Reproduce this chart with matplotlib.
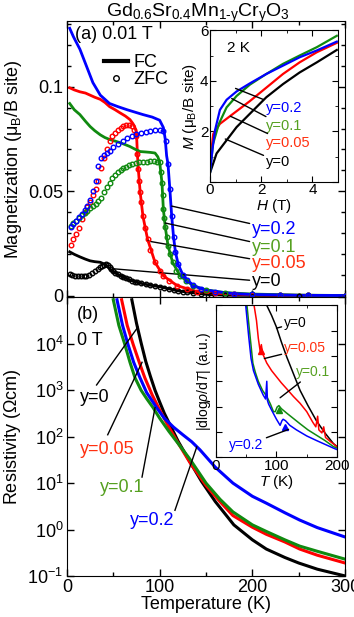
import matplotlib
matplotlib.use("Agg")
import matplotlib.pyplot as plt
import numpy as np
from matplotlib.lines import Line2D
from matplotlib.ticker import MultipleLocator, NullLocator

plt.rcParams['font.family'] = ['Liberation Sans', 'DejaVu Sans']
plt.rcParams['mathtext.fontset'] = 'custom'
plt.rcParams['mathtext.rm'] = 'Liberation Sans'
plt.rcParams['mathtext.it'] = 'Liberation Sans:italic'
plt.rcParams['mathtext.default'] = 'regular'

BLUE = '#0000ff'
RED = '#ff0000'
GREEN = '#108a10'
GREEN_TXT = '#55a020'
RED_TXT = '#ff3010'

# ---------------- (a) magnetization, 0.01 T ----------------
fc_t_y0 = [3, 8, 14, 20, 25, 30, 36, 40, 43, 46, 50, 55, 60, 65, 70, 76, 82, 90, 100, 110, 119, 128, 136, 145, 154, 180, 220, 300]
fc_m_y0 = [.021, .0198, .0186, .0175, .0167, .0163, .016, .0152, .0143, .013, .0114, .0102, .0091, .0081, .0072, .0064,
           .0057, .005, .0043, .0033, .0024, .0018, .0014, .0009, .0005, .0002, .0001, 0]
zfc_t_y0 = [3, 6, 9, 12, 15, 18, 21, 24, 27, 30, 33, 36, 38, 40, 42, 44, 46, 48, 50, 52, 55, 58, 61, 64, 67, 70, 73, 76,
            80, 85, 90, 95, 100, 105, 110, 115, 120, 125, 130, 136, 145, 155, 170, 200, 250, 300]
zfc_m_y0 = [.0105, .0099, .0096, .0095, .0094, .0094, .0095, .0099, .0108, .0119, .0128, .0138, .0144, .0149, .0152, .0149,
            .0139, .0128, .0117, .011, .0102, .0095, .009, .0083, .0078, .0072, .0068, .0064, .0059, .0055, .005, .0046,
            .0043, .0038, .0033, .0028, .0024, .002, .0017, .0014, .0009, .0005, .0003, .0001, 0, 0]

fc_t_y005 = [3, 8, 14, 20, 25, 30, 36, 41, 46, 52, 57, 63, 68, 71, 73, 75, 76, 77, 79, 82, 87, 95, 104, 119, 140, 160, 200, 250, 300]
fc_m_y005 = [.0995, .0985, .0976, .097, .096, .095, .094, .0925, .0905, .089, .0876, .086, .0843, .0825, .081, .078, .068,
             .0605, .0495, .038, .027, .016, .0095, .0048, .002, .0012, .0005, .0002, .0001]
zfc_t_y005 = [4, 7, 10, 13, 16, 19, 22, 25, 28, 31, 34, 37, 40, 43, 46, 49, 52, 55, 58, 61, 64, 67, 70, 72, 74, 76, 77, 78,
              79, 80, 82, 84, 87, 90, 95, 100, 104, 110, 119, 130, 140, 160, 180, 200, 230, 260, 300]
zfc_m_y005 = [.0245, .027, .0295, .0325, .0365, .040, .0425, .045, .048, .051, .055, .061, .066, .070, .074, .0765, .078,
              .0795, .0805, .081, .0815, .0815, .081, .0795, .0765, .068, .0605, .055, .0495, .045, .038, .0325, .027, .022,
              .016, .012, .0095, .007, .0048, .003, .002, .0012, .0008, .0005, .0003, .0002, .0001]

fc_t_y01 = [3, 8, 14, 20, 25, 30, 36, 41, 46, 52, 57, 63, 68, 74, 79, 85, 90, 95, 98, 100, 102.5, 104, 106, 109, 114, 122,
            136, 150, 170, 200, 250, 300]
fc_m_y01 = [.092, .089, .0867, .0835, .081, .079, .077, .0757, .0748, .074, .0733, .0723, .0714, .070, .069, .0688, .0686,
            .0683, .0665, .064, .054, .0414, .033, .024, .016, .0095, .0048, .0028, .0015, .0008, .0003, .0001]
zfc_t_y01 = [4, 7, 10, 13, 16, 19, 22, 25, 28, 31, 34, 37, 40, 43, 46, 49, 52, 55, 58, 61, 64, 67, 70, 74, 78, 82, 86, 90,
             94, 97, 100, 101.5, 102.5, 103.3, 104, 105, 106, 107.5, 109, 111, 114, 118, 122, 128, 136, 150, 170, 200,
             230, 260, 300]
zfc_m_y01 = [.0335, .035, .036, .037, .0385, .0395, .0405, .042, .043, .044, .0455, .047, .0495, .052, .054, .0565, .058,
             .0593, .0603, .061, .0618, .0625, .063, .0635, .064, .0641, .0642, .0643, .0643, .0642, .064, .059, .054,
             .048, .0414, .037, .033, .028, .024, .020, .016, .012, .0095, .007, .0048, .0028, .0015, .0008, .0004,
             .0002, .0001]

fc_t_y02 = [3, 7, 14, 21, 28, 36, 46, 55, 65, 82, 92, 100, 104, 106, 107.5, 109, 111, 113, 115, 117, 120, 125, 130, 136,
            145, 160, 180, 200, 250, 300]
fc_m_y02 = [.128, .124, .118, .110, .102, .096, .092, .0905, .089, .0867, .0855, .084, .0805, .075, .067, .063, .051, .038,
            .028, .021, .015, .010, .0075, .005, .0033, .002, .001, .0006, .0002, .0001]
zfc_t_y02 = [4, 7, 10, 13, 16, 19, 22, 25, 28, 31, 34, 37, 40, 43, 46, 50, 55, 60, 65, 70, 75, 80, 85, 90, 95, 100, 104,
             107, 109, 111, 113, 115, 117, 120, 125, 130, 136, 145, 160, 180, 200, 230, 260, 300]
zfc_m_y02 = [.033, .0345, .036, .0375, .039, .041, .043, .046, .050, .055, .062, .066, .0675, .0685, .0695, .071, .0725,
             .074, .0755, .0765, .0773, .078, .0785, .079, .0795, .0795, .0788, .074, .063, .051, .038, .028, .021, .015,
             .010, .0075, .005, .0033, .002, .001, .0006, .0003, .0002, .0001]

# inset (a): M-H at 2 K
h_y0 = [0, 0.26, 0.65, 1.04, 1.56, 2.2, 2.85, 3.5, 4.17, 4.95]
m_y0 = [0.35, 1.13, 1.65, 2.17, 2.7, 3.35, 3.87, 4.33, 4.73, 5.22]
h_y005 = [0, 0.13, 0.39, 0.91, 1.56, 2.2, 2.85, 3.5, 4.17, 4.95]
m_y005 = [0.75, 1.9, 2.3, 2.7, 3.2, 3.73, 4.27, 4.73, 5.13, 5.5]
h_y01 = [0, 0.12, 0.35, 0.65, 1.04, 1.56, 2.2, 2.85, 3.5, 4.17, 4.95]
m_y01 = [0.35, 1.5, 2.3, 2.95, 3.4, 3.85, 4.27, 4.67, 5.0, 5.33, 5.78]
h_y02 = [0, 0.1, 0.2, 0.39, 0.65, 1.04, 1.56, 2.2, 2.85, 3.5, 4.17, 4.95]
m_y02 = [0.35, 1.3, 2.05, 2.85, 3.25, 3.58, 3.9, 4.27, 4.6, 4.93, 5.2, 5.55]

# ---------------- (b) resistivity, 0 T ----------------
rt_y0 = [70, 75, 80, 85, 90, 95, 100, 105, 110, 120, 133, 145, 160, 180, 200, 215, 235, 250, 270, 300]
r_y0 = [8.9e4, 2.8e4, 1.05e4, 4.2e3, 2.0e3, 1.0e3, 5.6e2, 3.2e2, 2.0e2, 79, 28, 11, 4.0, 1.26, 0.6, 0.38, 0.25, 0.19,
        0.14, 0.1]
rt_y005 = [59, 65, 71.6, 78, 84, 92, 100, 110, 119, 133, 150, 165, 179, 200, 215, 235, 251, 270, 300]
r_y005 = [8.9e4, 2.5e4, 9.5e3, 4.0e3, 1.86e3, 7.9e2, 3.8e2, 1.6e2, 78, 27, 8.9, 4.0, 2.0, 1.12, 0.79, 0.54, 0.38, 0.28,
          0.19]
rt_y01 = [50, 56, 62.6, 68, 73.4, 80, 86, 93, 100, 110, 120, 133, 150, 165, 179, 200, 215, 235, 251, 270, 300]
r_y01 = [8.9e4, 2.5e4, 9.5e3, 4.0e3, 1.86e3, 1.0e3, 6.6e2, 4.2e2, 2.5e2, 1.3e2, 71, 32, 10, 4.5, 2.4, 1.26, 0.91, 0.6,
         0.44, 0.34, 0.23]
rt_y02 = [54, 60, 66, 72, 78.8, 86, 96.8, 105, 115, 125, 134.5, 143.5, 160, 179, 200, 215, 235, 251, 270, 300]
r_y02 = [8.9e4, 2.5e4, 9.5e3, 4.0e3, 1.86e3, 8.9e2, 4.2e2, 2.5e2, 1.6e2, 1.1e2, 78, 52, 22, 10, 5.2, 3.7, 2.3, 1.6, 1.1,
         0.69]
r_ticks = [1e-1, 1e0, 1e1, 1e2, 1e3, 1e4, 1e5]
r_ticklabels = [r'10$^{-1}$', r'10$^{0}$', r'10$^{1}$', r'10$^{2}$', r'10$^{3}$', r'10$^{4}$', '']

# inset (b): |dlog rho / dT| (a.u.)
dt_y0 = [78, 84, 92, 100, 108, 117, 128, 139, 152, 166, 180, 194, 200]
d_y0 = [6.5, 6.0, 5.6, 5.14, 4.56, 3.96, 3.3, 2.64, 2.04, 1.44, 0.96, 0.54, 0.42]
dt_y005 = [60, 63, 67, 70, 73, 75, 77, 84, 92, 100, 108, 117, 128, 139, 150, 160, 165, 168, 170, 175, 178, 181, 190, 200]
d_y005 = [6.6, 6.0, 5.4, 4.7, 4.2, 4.45, 4.1, 3.72, 3.42, 3.18, 2.94, 2.7, 2.4, 2.13, 1.8, 1.38, 1.2, 1.62, 1.08, 0.96,
          1.2, 0.78, 0.6, 0.42]
dt_y01 = [50, 55, 61, 65, 70, 77, 84, 90, 95, 98, 101, 104, 108, 117, 128, 139, 152, 166, 180, 194, 200]
d_y01 = [6.3, 5.1, 3.72, 3.36, 3.0, 2.64, 2.4, 2.1, 1.8, 1.8, 1.98, 2.04, 1.92, 1.74, 1.53, 1.32, 1.08, 0.87, 0.66,
         0.42, 0.36]
dt_y02 = [48, 54, 58, 62, 70, 78, 82, 84, 85, 87, 92, 100, 106, 109, 111, 115, 122, 133, 150, 166, 180, 194, 200]
d_y02 = [6.3, 4.8, 3.9, 3.42, 2.88, 2.46, 2.3, 3.0, 2.25, 2.1, 1.86, 1.5, 1.26, 1.44, 1.5, 1.44, 1.26, 1.08, 0.84, 0.66,
         0.51, 0.36, 0.3]
tri_t = [75, 104, 114]
tri_d = [4.2, 1.86, 1.2]
tri_c = [RED, GREEN, BLUE]

fig = plt.figure(figsize=(3.54, 6.17), dpi=100)
ax1 = fig.add_axes([0.189, 0.518, 0.786, 0.448])
ax2 = fig.add_axes([0.189, 0.0665, 0.786, 0.4515])

fs = 13
for ax in (ax1, ax2):
    ax.tick_params(which='both', direction='in', top=True, right=True, labelsize=fs, width=1, pad=2.5)
    ax.tick_params(which='major', length=5)
    ax.tick_params(which='minor', length=3)
    ax.set_xlim(0, 300)
    ax.xaxis.set_major_locator(MultipleLocator(100))
    ax.xaxis.set_minor_locator(MultipleLocator(50))

# (a)
curves_a = [(fc_t_y0, fc_m_y0, zfc_t_y0, zfc_m_y0, 'k'),
            (fc_t_y005, fc_m_y005, zfc_t_y005, zfc_m_y005, RED),
            (fc_t_y01, fc_m_y01, zfc_t_y01, zfc_m_y01, GREEN),
            (fc_t_y02, fc_m_y02, zfc_t_y02, zfc_m_y02, BLUE)]
for ft, fm, zt, zm, c in curves_a:
    ax1.plot(ft, fm, '-', color=c, lw=2.0, zorder=3)
    ax1.plot(zt, zm, 'o', mfc='none', mec=c, ms=3.3, mew=1.0, zorder=4)
ax1.set_ylim(-0.0008, 0.1315)
ax1.set_yticks([0, 0.05, 0.1])
ax1.set_yticklabels(['0', '0.05', '0.1'])
ax1.yaxis.set_minor_locator(MultipleLocator(0.01))
ax1.tick_params(labelbottom=False)
ax1.set_ylabel(r'Magnetization ($\mu_B$/B site)', fontsize=fs, labelpad=3)
ax1.text(0.03, 0.95, '(a) 0.01 T', transform=ax1.transAxes, fontsize=fs, va='center')
ax1.legend(handles=[Line2D([], [], color='k', lw=3),
                    Line2D([], [], ls='none', marker='o', mfc='none', mec='k', ms=4, mew=1)],
           labels=['FC', 'ZFC'], frameon=False, fontsize=fs, loc='upper left',
           bbox_to_anchor=(0.135, 0.88), handlelength=1.3, handletextpad=0.3, labelspacing=0.0,
           borderpad=0, borderaxespad=0)

ann_a = [('y=0.2', BLUE, (113, 0.0429), (200, 0.0319)),
         ('y=0.1', GREEN_TXT, (106, 0.0348), (200, 0.0233)),
         ('y=0.05', RED_TXT, (87, 0.0262), (200, 0.0152)),
         ('y=0', 'k', (50, 0.0129), (200, 0.0067))]
for lab, c, xy, xt in ann_a:
    ax1.annotate(lab, xy=xy, xytext=xt, color=c, fontsize=fs, va='center', ha='left',
                 arrowprops=dict(arrowstyle='-', color='k', lw=1, shrinkA=0, shrinkB=0))

# inset (a)
axi1 = fig.add_axes([0.593, 0.705, 0.362, 0.246])
for h, m, c in [(h_y0, m_y0, 'k'), (h_y005, m_y005, RED), (h_y01, m_y01, GREEN), (h_y02, m_y02, BLUE)]:
    axi1.plot(h, m, '-', color=c, lw=1.6)
axi1.set_xlim(0, 5)
axi1.set_ylim(0, 6)
axi1.xaxis.set_major_locator(MultipleLocator(2))
axi1.xaxis.set_minor_locator(MultipleLocator(1))
axi1.set_yticks([0, 2, 4, 6])
axi1.set_yticklabels(['', '2', '4', '6'])
axi1.yaxis.set_minor_locator(MultipleLocator(1))
axi1.tick_params(which='both', direction='in', top=True, right=True, labelsize=11, pad=1)
axi1.tick_params(which='major', length=4)
axi1.tick_params(which='minor', length=2.5)
axi1.set_xlabel(r'$\mathit{H}$ (T)', fontsize=11, labelpad=0)
axi1.set_ylabel(r'$\mathit{M}$ ($\mu_B$/B site)', fontsize=11, labelpad=1)
axi1.text(0.13, 0.88, '2 K', transform=axi1.transAxes, fontsize=11, va='center')
ann_i1 = [('y=0.2', BLUE, (1.0, 3.7), (2.2, 2.93)),
          ('y=0.1', GREEN_TXT, (0.85, 3.3), (2.2, 2.2)),
          ('y=0.05', RED_TXT, (0.8, 2.6), (2.2, 1.53)),
          ('y=0', 'k', (0.6, 1.7), (2.2, 0.8))]
for lab, c, xy, xt in ann_i1:
    axi1.annotate(lab, xy=xy, xytext=xt, color=c, fontsize=10.5, va='center', ha='left',
                  arrowprops=dict(arrowstyle='-', color='k', lw=1, shrinkA=0, shrinkB=0))

# (b)
for t, r, c in [(rt_y0, r_y0, 'k'), (rt_y005, r_y005, RED), (rt_y01, r_y01, GREEN), (rt_y02, r_y02, BLUE)]:
    ax2.plot(t, r, '-', color=c, lw=2.2)
ax2.set_yscale('log')
ax2.set_ylim(1e-1, 1e5)
ax2.set_yticks(r_ticks)
ax2.set_yticklabels(r_ticklabels)
ax2.yaxis.set_minor_locator(NullLocator())
ax2.set_xlabel('Temperature (K)', fontsize=fs, labelpad=0)
ax2.set_ylabel(r'Resistivity ($\Omega$cm)', fontsize=fs, labelpad=3)
ax2.text(0.035, 0.937, '(b)', transform=ax2.transAxes, fontsize=fs, va='center')
ax2.text(0.035, 0.847, '0 T', transform=ax2.transAxes, fontsize=fs, va='center')
ann_b = [('y=0', 'k', (76.6, 2.3e4), (32, 1.3e3), (14, 690)),
         ('y=0.05', RED_TXT, (81, 4.0e3), (44, 110), (14, 52)),
         ('y=0.1', GREEN_TXT, (95, 4.2e2), (81, 13.5), (35.6, 8)),
         ('y=0.2', BLUE, (140, 60), (116.5, 2.6), (68, 1.6))]
for lab, c, xy, xl, xt in ann_b:
    ax2.plot([xy[0], xl[0]], [xy[1], xl[1]], '-', color='k', lw=1)
    ax2.text(xt[0], xt[1], lab, color=c, fontsize=fs, va='center', ha='left')

# inset (b)
axi2 = fig.add_axes([0.610, 0.259, 0.342, 0.246])
for t, d, c in [(dt_y0, d_y0, 'k'), (dt_y005, d_y005, RED), (dt_y01, d_y01, GREEN), (dt_y02, d_y02, BLUE)]:
    axi2.plot(t, d, '-', color=c, lw=1.1)
for t, d, c in zip(tri_t, tri_d, tri_c):
    axi2.plot(t, d, '^', color=c, ms=5)
axi2.set_xlim(0, 200)
axi2.set_ylim(0, 6)
axi2.xaxis.set_major_locator(MultipleLocator(100))
axi2.xaxis.set_minor_locator(MultipleLocator(50))
axi2.yaxis.set_major_locator(MultipleLocator(1))
axi2.tick_params(which='both', direction='in', top=True, right=True, labelsize=11, pad=1, labelleft=False)
axi2.tick_params(which='major', length=4)
axi2.tick_params(which='minor', length=2.5)
axi2.set_xlabel(r'$\mathit{T}$ (K)', fontsize=11, labelpad=0)
axi2.set_ylabel(r'|dlog$\mathit{\rho}$/d$\mathit{T}$| (a.u.)', fontsize=10, labelpad=2)
ann_i2 = [('y=0', 'k', (100, 5.1), (113, 5.3)),
          ('y=0.05', RED_TXT, (80, 3.9), (113, 4.3)),
          ('y=0.1', GREEN_TXT, (106, 2.35), (132, 3.36)),
          ('y=0.2', BLUE, (120, 1.1), (22, 0.47))]
for lab, c, xy, xt in ann_i2:
    axi2.annotate(lab, xy=xy, xytext=xt, color=c, fontsize=10, va='center', ha='left',
                  arrowprops=dict(arrowstyle='-', color='k', lw=1, shrinkA=0, shrinkB=0))

fig.text(0.56, 0.997, r'Gd$_{0.6}$Sr$_{0.4}$Mn$_{1\text{-}y}$Cr$_y$O$_3$', fontsize=14, ha='center', va='top')

fig.savefig('out.png', dpi=100)
